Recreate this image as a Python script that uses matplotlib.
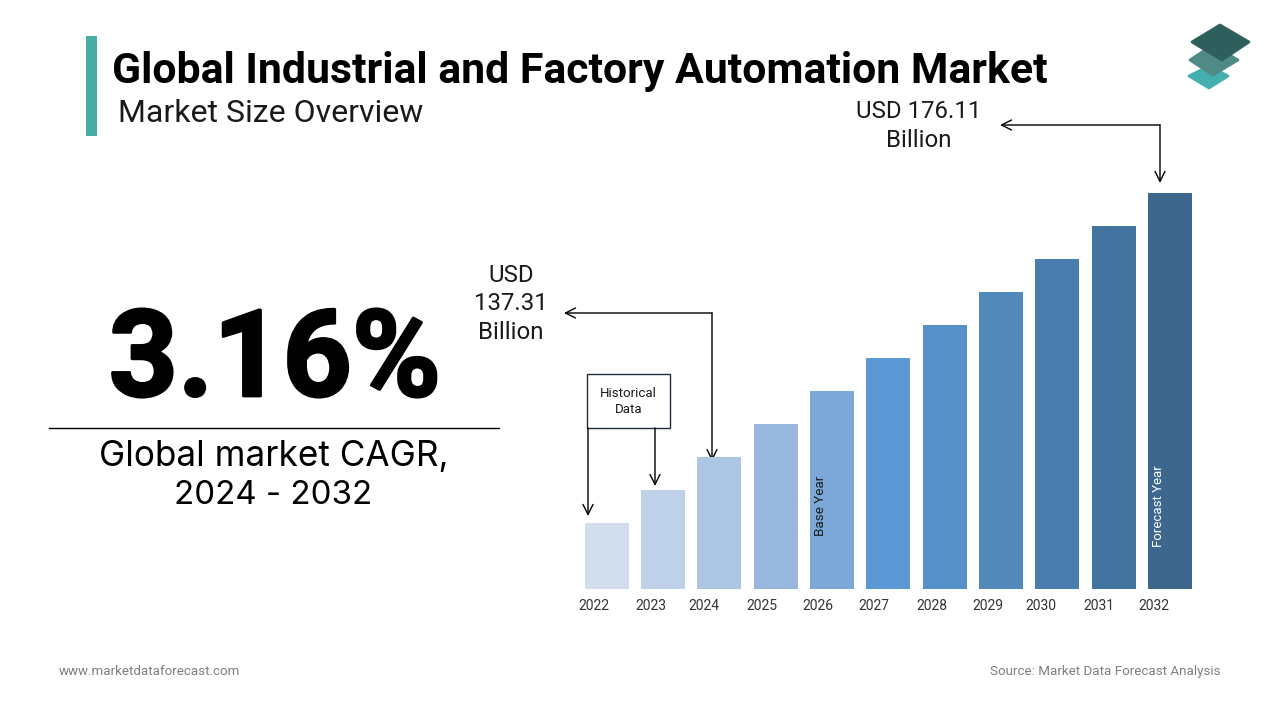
import matplotlib
matplotlib.use('Agg')
import matplotlib.pyplot as plt
import matplotlib.patheffects as pe
from matplotlib.patches import Rectangle, Polygon

years = ['2022', '2023', '2024', '2025', '2026', '2027', '2028', '2029', '2030', '2031', '2032']
# bar heights, the chart has no value axis
heights = [66, 99, 132, 165, 198, 231, 264, 297, 330, 363, 396]
bar_colors = ['#D2DDEE', '#BFD0E9', '#ADC6E3', '#97B7DD', '#7BA8D9', '#5B98D5',
              '#5690C8', '#5089BA', '#4A7DAF', '#43739F', '#3D678D']
label_shift = [-13, -12, -15, -14, -14, -14, -13, -13, -16, -15, -16]

plt.rcParams['font.family'] = ['Roboto', 'DejaVu Sans']
W, H = 1280, 720
fig = plt.figure(figsize=(12.8, 7.2), dpi=100)

# overlay in pixel coordinates for the text and arrows
bg = fig.add_axes([0, 0, 1, 1])
bg.set_xlim(0, W)
bg.set_ylim(H, 0)
bg.axis('off')

# bars
x0 = 606.8
step = 56.3
left_px, right_px = 560, 1220
base_px, top_px = 589, 160
ax = fig.add_axes([left_px / W, 1 - base_px / H, (right_px - left_px) / W, (base_px - top_px) / H])
ax.set_xlim((left_px - x0) / step, (right_px - x0) / step)
ax.set_ylim(0, base_px - top_px)
ax.bar(range(len(years)), heights, width=44 / step, color=bar_colors)
ax.set_xticks([i + s / step for i, s in enumerate(label_shift)])
ax.set_xticklabels(years, fontsize=10, color='#333333')
ax.tick_params(axis='x', length=0, pad=7)
ax.set_yticks([])
for s in ax.spines.values():
    s.set_visible(False)
ax.patch.set_alpha(0)

ax.text(4 - 12 / step, 83, 'Base Year', rotation=90, ha='center', va='center', fontsize=9.7, color='#1a1a1a')
ax.text(10 - 11 / step, 83, 'Forecast Year', rotation=90, ha='center', va='center', fontsize=9.5, color='white')

# title block
bg.add_patch(Rectangle((86, 36), 11, 100, color='#45AFA6', lw=0))
bg.text(111.5, 72, 'Global Industrial and Factory Automation Market', fontsize=30.75, fontweight='bold',
        color='black', va='center', ha='left')
bg.text(117.5, 113, 'Market Size Overview', fontsize=23, color='#1a1a1a', va='center', ha='left')

# logo
bg.add_patch(Polygon([(1189, 76), (1209, 66), (1228, 76), (1209, 88)], fc='#43AFAE', ec='#43AFAE', lw=2, joinstyle='round'))
bg.add_patch(Polygon([(1190, 60), (1213, 45), (1238, 60), (1213, 75)], fc='#4F8A87', ec='#4F8A87', lw=2, joinstyle='round'))
bg.add_patch(Polygon([(1192, 42), (1220, 25), (1249, 42), (1222, 60)], fc='#2F5F5C', ec='#2F5F5C', lw=2, joinstyle='round'))

# left callout
bg.text(275, 363, '3.16%', fontsize=87, fontweight='bold', color='black', ha='center', va='center',
        path_effects=[pe.withStroke(linewidth=2, foreground='black')])
bg.plot([49, 499], [427.5, 427.5], color='black', lw=1)
bg.text(273.5, 457, 'Global market CAGR,', fontsize=25.3, fontfamily='Inter', color='black', ha='center', va='center')
bg.text(273, 496, '2024 - 2032', fontsize=23.8, fontfamily='Inter', color='black', ha='center', va='center')

# value labels
bg.text(919, 126, 'USD 176.11\nBillion', fontsize=17.3, color='#1a1a1a', ha='center', va='center', linespacing=1.28)
bg.text(511, 304, 'USD\n137.31\nBillion', fontsize=17.3, color='#1a1a1a', ha='center', va='center', linespacing=1.28)

# arrows
def arrow(p, q):
    bg.annotate('', xy=q, xytext=p, arrowprops=dict(arrowstyle='->', color='black', lw=1,
                                                    mutation_scale=18, shrinkA=0, shrinkB=0))

arrow((1160, 125), (1000, 125))
arrow((1160, 125), (1160, 183))
arrow((712, 313), (564, 313))
arrow((712, 313), (712, 461))
arrow((588, 428), (588, 516))
arrow((655, 428), (655, 486))

# historical data box
bg.add_patch(Rectangle((587, 374), 83, 54, fc='white', ec='#1f2d3d', lw=1))
bg.text(628.5, 401.5, 'Historical\nData', fontsize=9.5, color='#1a1a1a', ha='center', va='center', linespacing=1.25)

# footer
bg.text(59, 671.5, 'www.marketdataforecast.com', fontsize=9.6, color='#7f7f7f', ha='left', va='center')
bg.text(1220, 671, 'Source: Market Data Forecast Analysis', fontsize=9.6, color='#7f7f7f', ha='right', va='center')

fig.savefig('out.png', dpi=100)
